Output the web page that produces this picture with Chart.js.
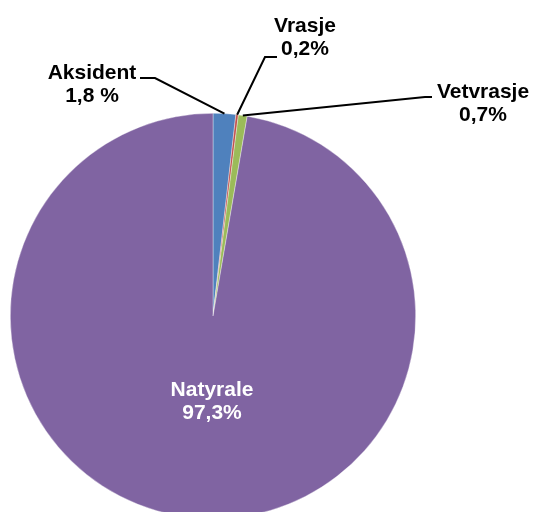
<!DOCTYPE html>
<html>
<head>
<meta charset="utf-8">
<script src="https://cdn.jsdelivr.net/npm/chart.js@4"></script>
<style>
  html, body { margin: 0; padding: 0; background: #fff; overflow: hidden; }
  #wrap { width: 533px; height: 530px; position: relative; }
</style>
</head>
<body>
<div id="wrap"><canvas id="pie" width="533" height="530"></canvas></div>
<script>
const categories = ['Aksident', 'Vrasje', 'Vetvrasje', 'Natyrale'];
const values     = [1.8, 0.2, 0.7, 97.3];
const pctLabels  = ['1,8 %', '0,2%', '0,7%', '97,3%'];
const colors     = ['#4F81BD', '#C0504D', '#9BBB59', '#8064A2'];

// where each label sits; null elbow = label inside the slice, no leader
const labelLayout = [
  { x: 92,  y: 73, elbow: [155, 78], end: [140, 78] },
  { x: 305, y: 26, elbow: [265, 57], end: [277, 57] },
  { x: 483, y: 92, elbow: [425, 97], end: [432, 97] },
  { x: 212, y: 390, elbow: null, color: '#fff' },
];

const labelPlugin = {
  id: 'pieLabels',
  afterDatasetsDraw(chart) {
    const ctx = chart.ctx;
    const arcs = chart.getDatasetMeta(0).data;
    ctx.save();
    ctx.font = 'bold 21px "Liberation Sans", Arial, sans-serif';
    ctx.textAlign = 'center';
    ctx.textBaseline = 'middle';
    arcs.forEach((arc, i) => {
      const pos = labelLayout[i];
      if (pos.elbow) {
        const mid = (arc.startAngle + arc.endAngle) / 2;
        const ax = arc.x + Math.cos(mid) * arc.outerRadius;
        const ay = arc.y + Math.sin(mid) * arc.outerRadius;
        ctx.strokeStyle = '#000';
        ctx.lineWidth = 2;
        ctx.beginPath();
        ctx.moveTo(ax, ay);
        ctx.lineTo(pos.elbow[0], pos.elbow[1]);
        ctx.lineTo(pos.end[0], pos.end[1]);
        ctx.stroke();
      }
      ctx.fillStyle = pos.color || '#000';
      ctx.fillText(categories[i], pos.x, pos.y);
      ctx.fillText(pctLabels[i], pos.x, pos.y + 23);
    });
    ctx.restore();
  }
};

new Chart(document.getElementById('pie'), {
  type: 'pie',
  data: {
    labels: categories,
    datasets: [{
      data: values,
      backgroundColor: colors,
      borderColor: 'rgba(255,255,255,0.6)',
      borderWidth: 0.6,
    }],
  },
  options: {
    responsive: false,
    animation: false,
    layout: { padding: { left: 10, right: 117, top: 113, bottom: 11 } },
    plugins: {
      legend: { display: false },
      tooltip: { enabled: false },
    },
  },
  plugins: [labelPlugin],
});
</script>
</body>
</html>
